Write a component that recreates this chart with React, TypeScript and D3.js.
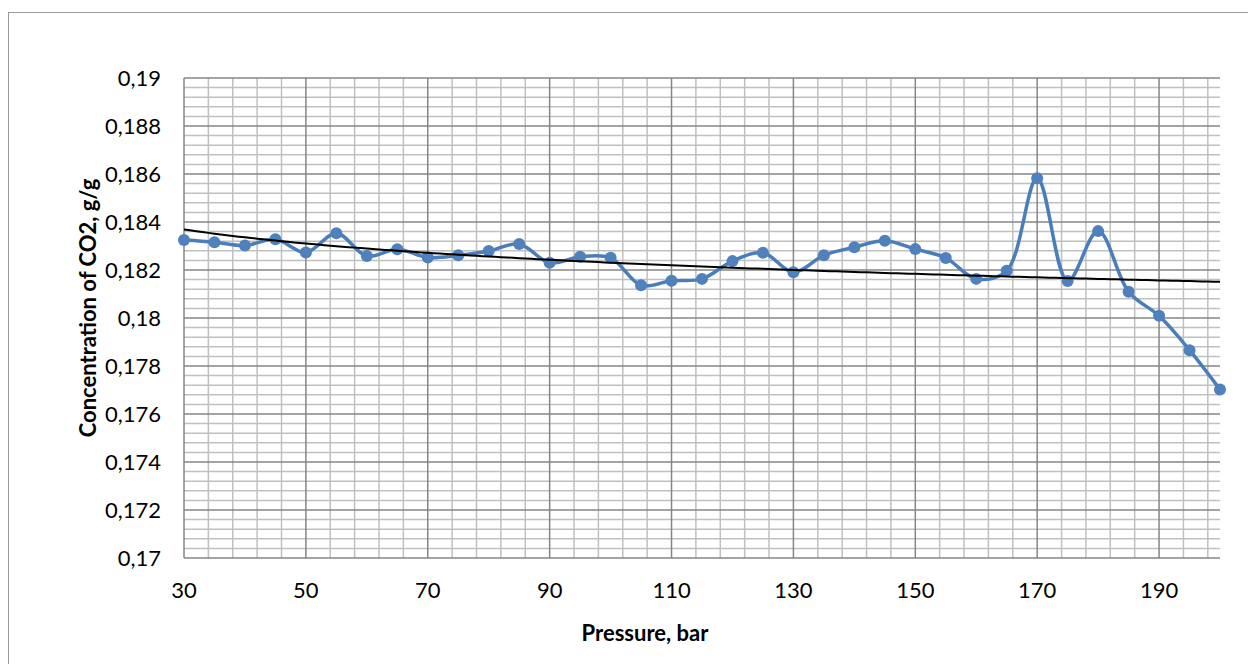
import React from 'react';
import * as d3 from 'd3';

// Pressure, bar
const pressures = [
  30, 35, 40, 45, 50, 55, 60, 65, 70, 75, 80, 85, 90, 95, 100, 105, 110, 115,
  120, 125, 130, 135, 140, 145, 150, 155, 160, 165, 170, 175, 180, 185, 190, 195, 200
];

// Concentration of CO2, g/g
const concentration = [
  0.18325, 0.18316, 0.18302, 0.18328, 0.18273, 0.18353, 0.18258, 0.18286, 0.18252,
  0.18261, 0.18279, 0.18308, 0.1823, 0.18255, 0.18251, 0.18136, 0.18155, 0.18163,
  0.18237, 0.18272, 0.18191, 0.18261, 0.18295, 0.18322, 0.18287, 0.1825, 0.18163,
  0.18197, 0.18582, 0.18154, 0.18362, 0.18109, 0.18009, 0.17866, 0.17702
];

const xTicks = [30, 50, 70, 90, 110, 130, 150, 170, 190];
const yTicks = [0.17, 0.172, 0.174, 0.176, 0.178, 0.18, 0.182, 0.184, 0.186, 0.188, 0.19];

const width = 1248;
const height = 664;
const margin = { top: 78, right: 28, bottom: 106, left: 184 };
const font = 'Lato, "Liberation Sans", sans-serif';

const App: React.FC = () => {
  const innerW = width - margin.left - margin.right;
  const innerH = height - margin.top - margin.bottom;

  const x = d3.scaleLinear().domain([30, 200]).range([0, innerW]);
  const y = d3.scaleLinear().domain([0.17, 0.19]).range([innerH, 0]);

  const points = pressures.map((p, i) => ({ p, c: concentration[i] }));

  // minor grid every 4 bar / 0.0004 g/g
  const xMinor = d3.range(30, 200, 4).filter(v => (v - 30) % 20 !== 0);
  const yMinor = d3.range(0, 50).map(i => 0.17 + i * 0.0004).filter((_, i) => i % 5 !== 0);

  const line = d3.line<{ p: number; c: number }>()
    .x(d => x(d.p))
    .y(d => y(d.c))
    .curve(d3.curveCatmullRom.alpha(0.5));

  // logarithmic trend line (least squares on ln p)
  const lx = pressures.map(p => Math.log(p));
  const mx = d3.mean(lx) as number;
  const my = d3.mean(concentration) as number;
  const slope = d3.sum(lx.map((v, i) => (v - mx) * (concentration[i] - my))) /
    d3.sum(lx.map(v => (v - mx) * (v - mx)));
  const intercept = my - slope * mx;
  const trendPts = d3.range(30, 200.5, 1).map(p => ({ p, c: intercept + slope * Math.log(p) }));
  const trend = d3.line<{ p: number; c: number }>().x(d => x(d.p)).y(d => y(d.c));

  const fmt = (v: number) => String(+v.toFixed(3)).replace('.', ',');

  return (
    <svg width={width} height={height}
      style={{ position: 'absolute', left: 0, top: 0, background: '#fff', fontFamily: font }}>
      <rect x={8.5} y={12.5} width={width} height={height} fill="#fff" stroke="#9a9a9a" />
      <g transform={`translate(${margin.left},${margin.top})`}>
        {xMinor.map(v => (
          <line key={'xm' + v} x1={x(v)} x2={x(v)} y1={0} y2={innerH} stroke="#c0c0c0" strokeWidth={1.5} />
        ))}
        {yMinor.map(v => (
          <line key={'ym' + v} x1={0} x2={innerW} y1={y(v)} y2={y(v)} stroke="#c0c0c0" strokeWidth={1.5} />
        ))}
        {xTicks.slice(1).map(v => (
          <line key={'xM' + v} x1={x(v)} x2={x(v)} y1={0} y2={innerH} stroke="#868686" strokeWidth={1.5} />
        ))}
        {yTicks.slice(1).map(v => (
          <line key={'yM' + v} x1={0} x2={innerW} y1={y(v)} y2={y(v)} stroke="#868686" strokeWidth={1.5} />
        ))}
        <line x1={0} x2={0} y1={0} y2={innerH} stroke="#868686" strokeWidth={1.5} />
        <line x1={0} x2={innerW} y1={innerH} y2={innerH} stroke="#868686" strokeWidth={1.5} />

        {yTicks.map(v => (
          <text key={'yl' + v} x={-23} y={y(v)} dy="0.35em" textAnchor="end" fontSize={22} fill="#000">
            {fmt(v)}
          </text>
        ))}
        {xTicks.map(v => (
          <text key={'xl' + v} x={x(v)} y={innerH + 32} dy="0.35em" textAnchor="middle" fontSize={22} fill="#000">
            {v}
          </text>
        ))}

        <path d={line(points) ?? ''} fill="none" stroke="#4a7ebb" strokeWidth={3.5} />
        {points.map(d => (
          <circle key={'pt' + d.p} cx={x(d.p)} cy={y(d.c)} r={6} fill="#4f81bd" />
        ))}
        <path d={trend(trendPts) ?? ''} fill="none" stroke="#000" strokeWidth={2} />

        <text x={461} y={innerH + 75} dy="0.35em" textAnchor="middle" fontSize={22} fontWeight="bold">
          Pressure, bar
        </text>
        <text transform={`translate(${-96},${innerH / 2 - 10}) rotate(-90)`} dy="0.35em" textAnchor="middle"
          fontSize={22} fontWeight="bold">
          Concentration of CO2, g/g
        </text>
      </g>
    </svg>
  );
};

export default App;
